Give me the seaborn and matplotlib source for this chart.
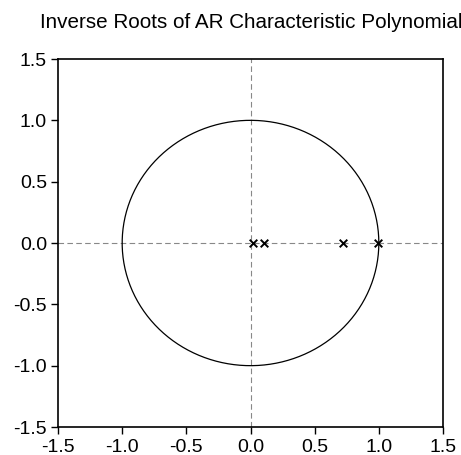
import numpy as np
import pandas as pd
import matplotlib
matplotlib.use("Agg")
import matplotlib.pyplot as plt
import seaborn as sns

root_re = [0.02, 0.106, 0.723, 0.997]
root_im = [0.0, 0.0, 0.0, 0.0]
ticks = [-1.5, -1.0, -0.5, 0.0, 0.5, 1.0, 1.5]
tick_labels = ["-1.5", "-1.0", "-0.5", "0.0", "0.5", "1.0", "1.5"]
title = "Inverse Roots of AR Characteristic Polynomial"

sns.set_theme(style="white")
plt.rcParams['font.family'] = ['Liberation Sans', 'DejaVu Sans']

W, H = 461, 455
fig = plt.figure(figsize=(W / 100, H / 100), dpi=100)
ax = fig.add_axes([58 / W, (H - 427) / H, (443 - 58) / W, (427 - 59) / H])

theta = np.linspace(0, 2 * np.pi, 400)
circle = pd.DataFrame({"x": np.cos(theta), "y": np.sin(theta), "o": np.arange(400)})
sns.lineplot(data=circle, x="x", y="y", sort=False, color="black", linewidth=0.9, ax=ax, estimator=None)

ax.axhline(0, color="#888888", linestyle=(0, (5, 3)), linewidth=0.8, zorder=1)
ax.axvline(0, color="#888888", linestyle=(0, (5, 3)), linewidth=0.8, zorder=1)

roots = pd.DataFrame({"re": root_re, "im": root_im})
sns.scatterplot(data=roots, x="re", y="im", marker="x", color="black", s=30, linewidth=1.4, ax=ax, zorder=3)

ax.set_xlim(-1.5, 1.5)
ax.set_ylim(-1.5, 1.5)
ax.set_xticks(ticks)
ax.set_xticklabels(tick_labels)
ax.set_yticks(ticks)
ax.set_yticklabels(tick_labels)
ax.set_xlabel("")
ax.set_ylabel("")
ax.tick_params(axis="both", which="both", direction="out", length=5, width=1, color="black",
               labelsize=14, labelcolor="black", bottom=True, left=True, top=False, right=False)
ax.tick_params(axis="x", pad=4)
ax.tick_params(axis="y", pad=3)
for sp in ax.spines.values():
    sp.set_color("black")
    sp.set_linewidth(1.2)
ax.grid(False)

fig.text(40 / W, (H - 28) / H, title, ha="left", va="baseline", fontsize=14.9, color="black")

fig.savefig("out.png", dpi=100, facecolor="white")
